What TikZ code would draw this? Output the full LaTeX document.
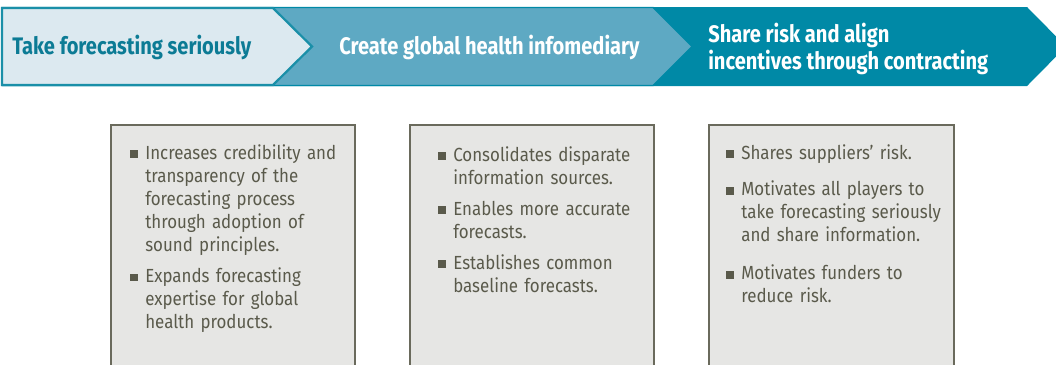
\documentclass[tikz,border=0pt]{standalone}
\usepackage{fontspec}
\setmainfont{Fira Sans}
\newfontfamily\headfont[FakeStretch=0.84]{Fira Sans}
\newfontfamily\bodyfont[FakeStretch=0.89]{Fira Sans}

\definecolor{tealdark}{HTML}{0089A6}
\definecolor{tealmid}{HTML}{5EA9C3}
\definecolor{tealpale}{HTML}{DCE9F0}
\definecolor{tealline}{HTML}{1A8FA8}
\definecolor{tealtext}{HTML}{0C7B95}
\definecolor{boxfill}{HTML}{E6E6E4}
\definecolor{boxline}{HTML}{6A6A5C}
\definecolor{boxtext}{HTML}{5A5A4B}

% one square-bulleted point with hanging indent
\newcommand{\bitem}[2][5.5pt]{\par\noindent\hangindent=10.7pt\hangafter=1%
	\makebox[10.7pt][l]{\raisebox{0.7pt}{\rule{5.6pt}{5.6pt}}}#2\par\vspace{#1}}

\begin{document}
\begin{tikzpicture}[x=0.025cm,y=-0.025cm]

% ----------------------------
% Styles
% ----------------------------
\tikzset{
	band3/.style={fill=tealdark},
	band2/.style={fill=tealmid,draw=tealdark,line width=1pt},
	band1/.style={fill=tealpale,draw=tealline,line width=1.6pt},
	headtxt/.style={anchor=west,inner sep=0pt,align=left,
		font=\headfont\bfseries\fontsize{17}{15}\selectfont},
	panel/.style={fill=boxfill,draw=boxline,line width=2pt},
	points/.style={anchor=north west,inner sep=0pt,text width=6cm,
		text=boxtext,font=\bodyfont\fontsize{13.5}{16.4}\selectfont}
}

\useasboundingbox (0,0) rectangle (1056,364);
\clip (0,0) rectangle (1056,364);

% ============================================================
% TOP: the three chevrons of the band
% ============================================================
\fill[band3] (2,7) -- (1027,7) -- (1066,46.5) -- (1027,86) -- (2,86) -- cycle;
\draw[band2] (2,7.5) -- (653,7.5) -- (692,46.5) -- (653,85.5) -- (2,85.5) -- cycle;
\draw[band1] (2,8) -- (273,8) -- (312,46.5) -- (273,85) -- (2,85) -- cycle;

\node[headtxt,text=tealtext] (step1) at (12,47) {Take forecasting seriously};
\node[headtxt,text=white] (step2) at (339,47) {Create global health infomediary};
\node[headtxt,text=white] (step3) at (708,49) {Share risk and align\\incentives through contracting};

% ============================================================
% BOTTOM: one open box of points under each chevron
% ============================================================
\path[panel] (111,372) |- (355,125) -- (355,372);
\path[panel] (410,372) |- (654,125) -- (654,372);
\path[panel] (709,372) |- (954,125) -- (954,372);

\node[points] (pts1) at (130,136) {%
	\bitem{Increases credibility and\newline transparency of the\newline forecasting process\newline through adoption of\newline sound principles.}%
	\bitem{Expands forecasting\newline expertise for global\newline health products.}};

\node[points] (pts2) at (438,138) {%
	\bitem{Consolidates disparate\newline information sources.}%
	\bitem{Enables more accurate\newline forecasts.}%
	\bitem{Establishes common\newline baseline forecasts.}};

\node[points] (pts3) at (726,136) {%
	\bitem[9.5pt]{Shares suppliers’ risk.}%
	\bitem[10.5pt]{Motivates all players to\newline take forecasting seriously\newline and share information.}%
	\bitem{Motivates funders to\newline reduce risk.}};

\end{tikzpicture}
\end{document}
